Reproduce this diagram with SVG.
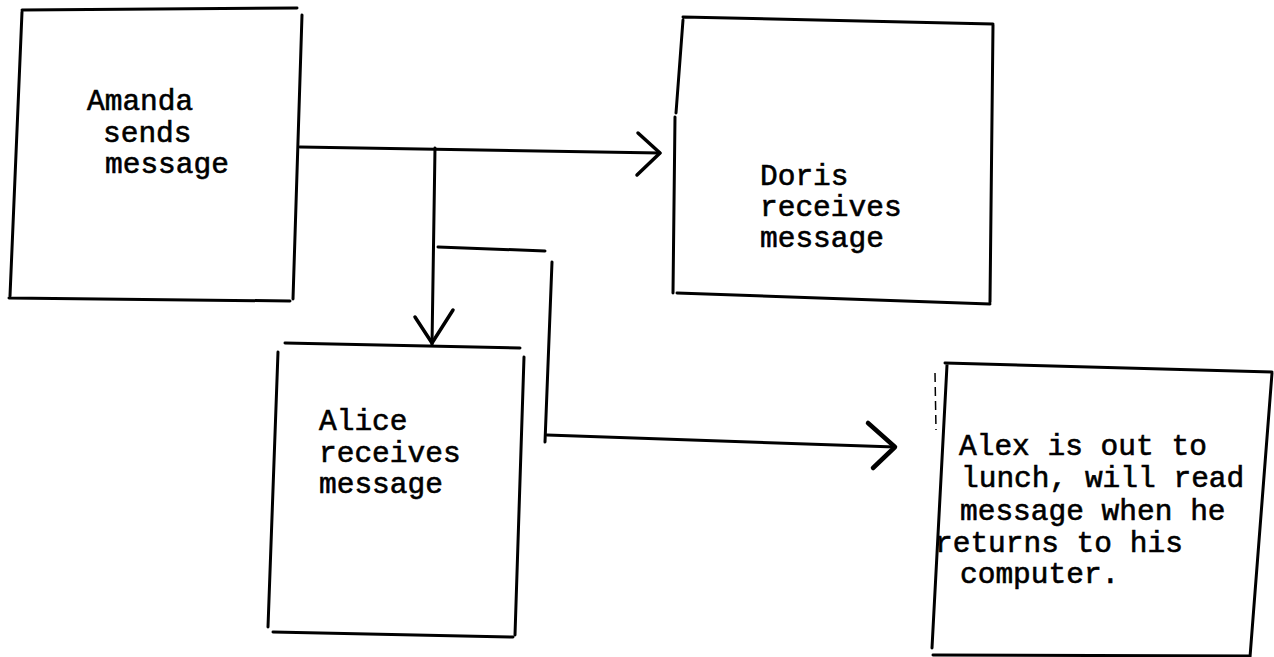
<svg xmlns="http://www.w3.org/2000/svg" width="1274" height="657" viewBox="0 0 1274 657">
  <style>
    .edge { fill: none; stroke: #000; stroke-width: 3; stroke-linecap: round; stroke-linejoin: round; }
    .wire { fill: none; stroke: #000; stroke-width: 3; stroke-linecap: round; stroke-linejoin: round; }
    .head { fill: none; stroke: #000; stroke-width: 3.5; stroke-linecap: round; stroke-linejoin: round; }
    .label { font-family: "Liberation Mono", "Courier New", monospace; font-size: 29.5px; fill: #000; stroke: #000; stroke-width: 0.6; }
  </style>
  <rect width="1274" height="657" fill="#fff"/>

  <!-- Sender -->
  <g id="amanda">
    <path class="edge" d="M22,10 L297,8 M302,15 L293,299 M9,298 L290,301 M22,12 L10,296"/>
    <text class="label">
      <tspan x="87" y="110">Amanda</tspan>
      <tspan x="103" y="142">sends</tspan>
      <tspan x="105" y="173">message</tspan>
    </text>
  </g>

  <!-- Recipient on the right -->
  <g id="doris">
    <path class="edge" d="M683,17 L993,24 M993,25 L990,302 M677,293 L990,304 M683,20 L676,113 M675,117 L673,293"/>
    <text class="label">
      <tspan x="760" y="185">Doris</tspan>
      <tspan x="760" y="216">receives</tspan>
      <tspan x="760" y="247">message</tspan>
    </text>
  </g>

  <!-- Recipient below -->
  <g id="alice">
    <path class="edge" d="M285,343 L520,348 M524,357 L515,635 M273,632 L513,637 M278,352 L268,627"/>
    <text class="label">
      <tspan x="319" y="430">Alice</tspan>
      <tspan x="319" y="462">receives</tspan>
      <tspan x="319" y="493">message</tspan>
    </text>
  </g>

  <!-- Absent recipient -->
  <g id="alex">
    <path class="edge" d="M945,363 L1272,372 M1272,373 L1250,657 M933,655 L1250,656 M947,365 L932,648"/>
    <path fill="none" stroke="#000" stroke-width="1.5" stroke-dasharray="9,5" d="M935,373 L936,430"/>
    <text class="label">
      <tspan x="959" y="455">Alex is out to</tspan>
      <tspan x="961" y="487">lunch, will read</tspan>
      <tspan x="960" y="520">message when he</tspan>
      <tspan x="935" y="552">returns to his</tspan>
      <tspan x="960" y="583">computer.</tspan>
    </text>
  </g>

  <!-- Connectors -->
  <g id="connectors">
    <path class="wire" d="M300,147 L660,153"/>
    <path class="head" d="M638,133 L660,153 L637,175"/>
    <path class="wire" d="M435,148 L432,345"/>
    <path class="head" d="M415,317 L432,343 L453,310"/>
    <path class="wire" d="M438,247 L545,251"/>
    <path class="wire" d="M552,262 L545,442"/>
    <path class="wire" d="M547,435 L895,447"/>
    <path class="head" style="stroke-width:4.5" d="M868,423 L895,447 L873,468"/>
  </g>
</svg>
